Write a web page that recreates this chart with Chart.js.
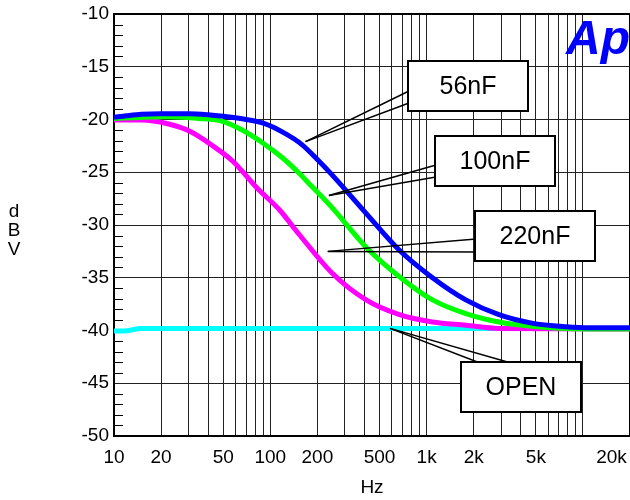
<!DOCTYPE html>
<html>
<head>
<meta charset="utf-8">
<script src="https://cdn.jsdelivr.net/npm/chart.js@4"></script>
<style>
  html, body { margin: 0; padding: 0; background: #fff; overflow: hidden; }
  #wrap { width: 630px; height: 500px; }
</style>
</head>
<body>
<div id="wrap"><canvas id="chart"></canvas></div>
<script>
// frequency response, dBV vs Hz
const freq56 = [10, 12, 15, 20, 30, 40, 50, 70, 90, 120, 160, 200, 250, 410, 670, 1090, 1780, 2900, 4700, 7800, 11000, 20000];
const dbv56 = [-19.8, -19.65, -19.5, -19.45, -19.45, -19.55, -19.7, -20.0, -20.35, -21.2, -22.4, -23.8, -25.3, -28.9, -32.4, -35.0, -37.1, -38.5, -39.3, -39.65, -39.75, -39.75];

const freq100 = [10, 15, 22, 35, 50, 66, 89, 120, 153, 170, 250, 410, 670, 1090, 1780, 2900, 4700, 10400, 20000];
const dbv100 = [-19.9, -19.8, -19.75, -19.9, -20.2, -21.0, -22.2, -23.65, -25.1, -25.8, -28.4, -32.1, -34.9, -37.1, -38.4, -39.2, -39.6, -39.85, -39.85];

const freq220 = [10, 15, 22, 31, 41, 58, 81, 115, 153, 250, 410, 670, 1090, 1780, 2900, 20000];
const dbv220 = [-20.05, -20.05, -20.4, -21.15, -22.3, -24.0, -26.4, -28.6, -30.9, -34.6, -37.1, -38.5, -39.2, -39.5, -39.8, -39.85];

const freqOpen = [10, 11.5, 15, 20000];
const dbvOpen = [-40.05, -40.05, -39.8, -39.8];

const xLabelFreqs = [10, 20, 50, 100, 200, 500, 1000, 2000, 5000, 20000];
const xLabelTexts = ['10', '20', '50', '100', '200', '500', '1k', '2k', '5k', '20k'];
const xMin = 10, xMax = 20000;
const yMin = -50, yMax = -10, yStep = 5;

// callouts: label, point on the curve [Hz, dBV], box top-left corner [Hz, dBV]
const callouts = [
  { text: '56nF', tip: [168, -22.1], box: [763, -14.45], side: 'left', at: [30, 42] },
  { text: '100nF', tip: [237, -27.2], box: [1135, -21.56], side: 'left', at: [29, 41] },
  { text: '220nF', tip: [233, -32.5], box: [2042, -28.67], side: 'left', at: [28, 41] },
  { text: 'OPEN', tip: [583, -39.8], box: [1664, -43.0], side: 'top', at: [19, 50] }
];

const FONT = '"Liberation Sans", Arial, sans-serif';
Chart.defaults.font.family = FONT;
Chart.defaults.font.size = 19;
Chart.defaults.color = '#000';

const toXY = (fs, vs) => fs.map((f, i) => ({ x: f, y: vs[i] }));

const extras = {
  id: 'extras',
  beforeDatasetsDraw(chart) {
    const { ctx, chartArea: a, scales: { y } } = chart;
    ctx.save();
    ctx.strokeStyle = '#000';
    ctx.lineWidth = 1;
    for (let v = yMin + 1; v < yMax; v++) {
      if (v % yStep === 0) continue;
      const py = Math.round(y.getPixelForValue(v)) + 0.5;
      ctx.beginPath();
      ctx.moveTo(a.left, py);
      ctx.lineTo(a.left + 9, py);
      ctx.stroke();
    }
    ctx.lineWidth = 2;
    ctx.strokeRect(a.left, a.top, a.right - a.left, a.bottom - a.top);
    ctx.restore();
  },
  afterDatasetsDraw(chart) {
    const { ctx, scales: { x, y } } = chart;
    ctx.save();

    // Ap logo
    ctx.fillStyle = '#0000ff';
    ctx.font = 'italic bold 48px ' + FONT;
    ctx.textAlign = 'left';
    ctx.textBaseline = 'alphabetic';
    ctx.fillText('Ap', 566, 54);

    // y axis unit, stacked
    ctx.fillStyle = '#000';
    ctx.font = '19px ' + FONT;
    ctx.textAlign = 'center';
    ctx.textBaseline = 'middle';
    ['d', 'B', 'V'].forEach((c, i) => ctx.fillText(c, 14, 212 + i * 19));

    // callouts
    const bw = 120, bh = 50;
    callouts.forEach(c => {
      const tx = x.getPixelForValue(c.tip[0]);
      const ty = y.getPixelForValue(c.tip[1]);
      const bx = Math.round(x.getPixelForValue(c.box[0]));
      const by = Math.round(y.getPixelForValue(c.box[1]));
      ctx.strokeStyle = '#000';
      ctx.lineWidth = 1.5;
      c.at.forEach(o => {
        ctx.beginPath();
        ctx.moveTo(tx, ty);
        if (c.side === 'left') ctx.lineTo(bx + 1, by + o);
        else ctx.lineTo(bx + o, by + 1);
        ctx.stroke();
      });
      ctx.fillStyle = '#fff';
      ctx.fillRect(bx, by, bw, bh);
      ctx.lineWidth = 2;
      ctx.strokeRect(bx, by, bw, bh);
      ctx.fillStyle = '#000';
      ctx.font = '25px ' + FONT;
      ctx.textAlign = 'center';
      ctx.textBaseline = 'middle';
      ctx.fillText(c.text, bx + bw / 2, by + bh / 2 + 1);
    });
    ctx.restore();
  }
};

const line = (data, color) => ({
  data, borderColor: color, backgroundColor: color,
  borderWidth: 5, pointRadius: 0, fill: false,
  cubicInterpolationMode: 'monotone'
});

new Chart(document.getElementById('chart'), {
  type: 'line',
  data: {
    datasets: [
      line(toXY(freq56, dbv56), '#0000ff'),
      line(toXY(freq100, dbv100), '#00ff00'),
      line(toXY(freq220, dbv220), '#ff00ff'),
      line(toXY(freqOpen, dbvOpen), '#00ffff')
    ]
  },
  options: {
    responsive: true,
    maintainAspectRatio: false,
    animation: false,
    layout: { autoPadding: false, padding: { left: 0, top: 14, right: -2, bottom: 0 } },
    plugins: { legend: { display: false }, tooltip: { enabled: false } },
    scales: {
      x: {
        type: 'logarithmic',
        min: xMin,
        max: xMax,
        afterBuildTicks: (scale) => {
          const t = [];
          for (let d = 10; d <= xMax; d *= 10) {
            for (let m = 1; m <= 9; m++) {
              if (m * d <= xMax) t.push({ value: m * d });
            }
          }
          scale.ticks = t;
        },
        afterFit: (scale) => {
          scale.height = 64;
          scale.paddingLeft = 0;
          scale.paddingRight = 0;
        },
        grid: { color: '#222', lineWidth: 1, drawTicks: false },
        border: { display: false },
        ticks: {
          autoSkip: false,
          maxRotation: 0,
          padding: 10,
          callback: (v) => {
            const i = xLabelFreqs.indexOf(v);
            if (i < 0) return '';
            return v === xMax ? xLabelTexts[i] + '       ' : xLabelTexts[i];
          }
        },
        title: { display: true, text: 'Hz', padding: { top: 0, bottom: 1 } }
      },
      y: {
        min: yMin,
        max: yMax,
        afterFit: (scale) => {
          scale.width = 114;
          scale.paddingTop = 0;
          scale.paddingBottom = 0;
        },
        grid: { color: '#222', lineWidth: 1, drawTicks: false },
        border: { display: false },
        ticks: { stepSize: yStep, padding: 5 }
      }
    }
  },
  plugins: [extras]
});
</script>
</body>
</html>
